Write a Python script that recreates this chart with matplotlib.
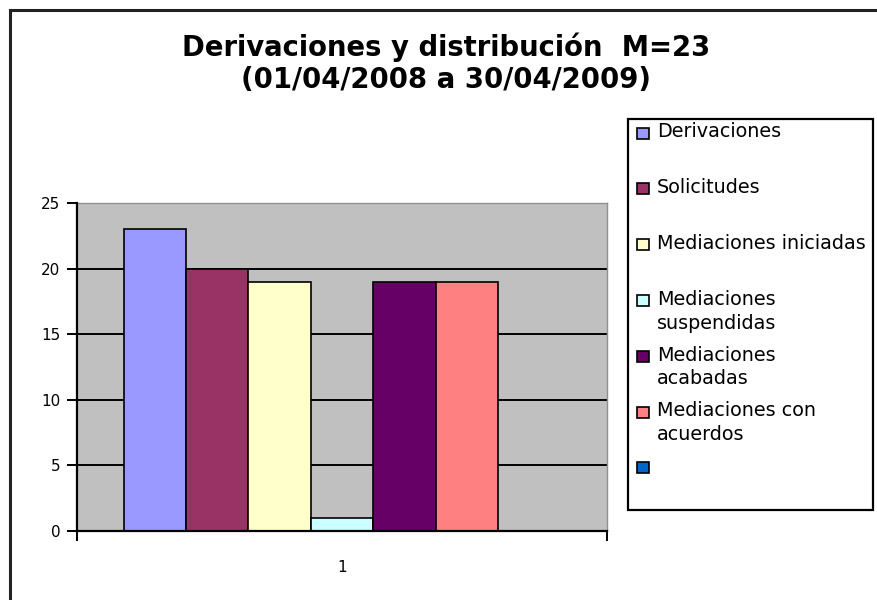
import matplotlib
matplotlib.use("Agg")
import matplotlib.pyplot as plt
from matplotlib.patches import Rectangle
from matplotlib.lines import Line2D

# ---- data ----
categories = ["1"]
series_names = ["Derivaciones", "Solicitudes", "Mediaciones iniciadas",
                "Mediaciones\nsuspendidas", "Mediaciones\nacabadas",
                "Mediaciones con\nacuerdos", ""]
series_values = [23, 20, 19, 1, 19, 19, 0]
series_colors = ["#9999FF", "#993366", "#FFFFCC", "#CCFFFF", "#660066", "#FF8080", "#0066CC"]
y_ticks = [0, 5, 10, 15, 20, 25]
title_text = "Derivaciones y distribución  M=23\n(01/04/2008 a 30/04/2009)"

W, H = 877, 600
fig = plt.figure(figsize=(W / 100, H / 100), dpi=100)
fig.patch.set_facecolor("white")

def fx(px):
    return px / W

def fy(py):
    return 1 - py / H

# outer chart border (left and top visible)
fig.add_artist(Line2D([fx(10), fx(10)], [fy(10), fy(600)], color="#222222", lw=2.2))
fig.add_artist(Line2D([fx(10), fx(877)], [fy(10), fy(10)], color="#222222", lw=2.2))

# plot area
L, T, R, B = 77, 203, 607, 531
ax = fig.add_axes([fx(L), fy(B), fx(R - L), (B - T) / H])
ax.set_facecolor("#C0C0C0")

n = len(series_values)
gap = 1.5
width = 1.0 / (n + gap)
for i, (name, val, col) in enumerate(zip(series_names, series_values, series_colors)):
    xpos = (i - (n - 1) / 2) * width
    ax.bar(xpos, val, width=width, color=col, edgecolor="black", linewidth=1.2, zorder=3)

ax.set_xlim(-0.5, 0.5)
ax.set_ylim(0, 25)
ax.set_yticks(y_ticks)
ax.set_yticklabels([str(t) for t in y_ticks], fontsize=11, family="DejaVu Sans")
for t in y_ticks[1:-1]:
    ax.axhline(t, color="black", lw=1.4, zorder=1)

ax.set_xticks([-0.5, 0.5])
ax.set_xticklabels(["", ""])
ax.set_xticks([0], minor=True)
ax.set_xticklabels(categories, minor=True, fontsize=11, family="DejaVu Sans")
ax.tick_params(axis="x", which="minor", length=0, pad=21)
ax.tick_params(axis="x", which="major", length=7, width=1.4, direction="out")
ax.tick_params(axis="y", length=7, width=1.4, direction="out", pad=5)

for s in ["top", "right"]:
    ax.spines[s].set_color("#909090")
    ax.spines[s].set_linewidth(1.0)
for s in ["left", "bottom"]:
    ax.spines[s].set_color("black")
    ax.spines[s].set_linewidth(1.6)
    ax.spines[s].set_zorder(4)

# title
fig.text(fx(446), fy(63), title_text, ha="center", va="center", fontsize=19.8,
         fontweight="bold", family="DejaVu Sans", linespacing=1.2)

# legend
lx0, ly0, lx1, ly1 = 628, 119, 873, 510
fig.add_artist(Rectangle((fx(lx0), fy(ly1)), fx(lx1 - lx0), (ly1 - ly0) / H,
                         facecolor="white", edgecolor="black", lw=1.6))
step = 55.8
for i, (name, col) in enumerate(zip(series_names, series_colors)):
    yc = 133 + step * i
    fig.add_artist(Rectangle((fx(637), fy(yc + 5.5)), fx(12), 11 / H,
                             facecolor=col, edgecolor="black", lw=1.2))
    fig.text(fx(657), fy(yc - 10.5), name, ha="left", va="top", fontsize=13.8,
             family="DejaVu Sans", linespacing=1.32)

fig.savefig("out.png", dpi=100)
